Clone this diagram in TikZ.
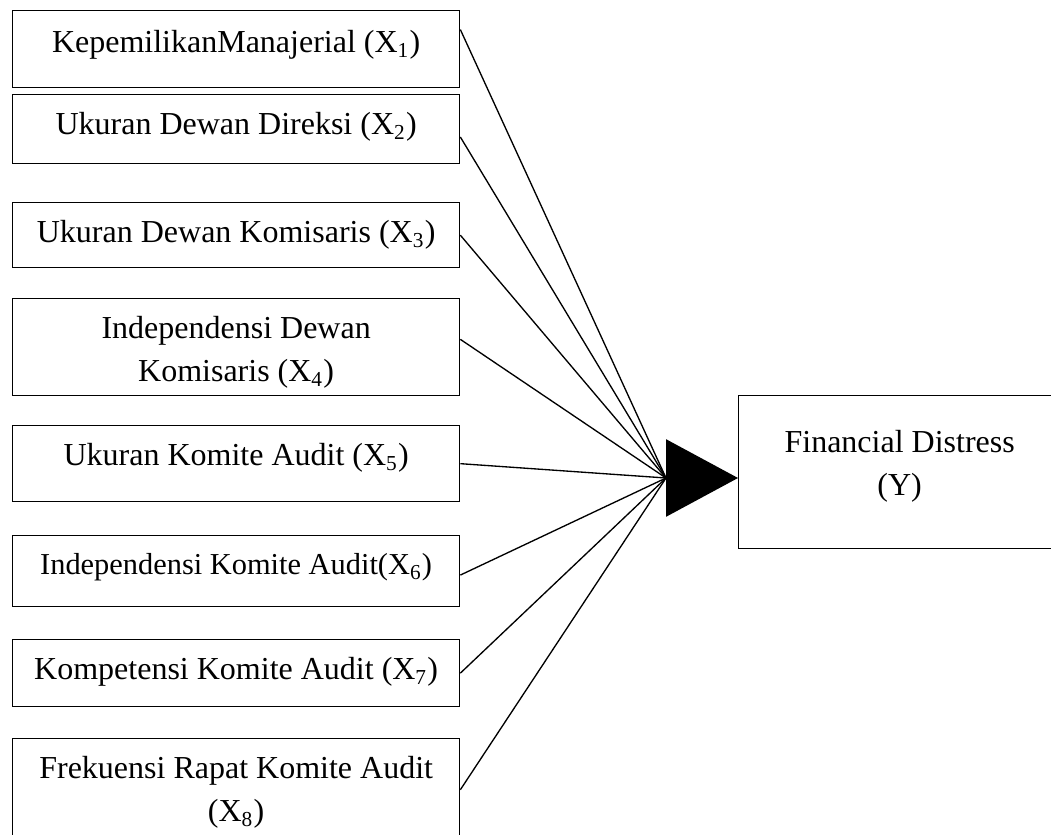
\documentclass[tikz,border=0pt]{standalone}
\usepackage{fontspec}
\setmainfont{Liberation Serif}
\usetikzlibrary{arrows.meta}
\newcommand{\px}{0.375pt}

\begin{document}
\begin{tikzpicture}[x=\px,y=-\px,line width=0.5pt,
  box/.style={draw,anchor=north west,minimum width=447*\px,inner sep=0pt},
  lbl/.style={anchor=north,align=center,inner sep=0pt,font=\fontsize{12}{16.1}\selectfont}]
\useasboundingbox (0,0) rectangle (1051,834);

\node[box,minimum height=77*\px] (b1) at (12,10) {};
\node[box,minimum height=69*\px] (b2) at (12,94) {};
\node[box,minimum height=65*\px] (b3) at (12,202) {};
\node[box,minimum height=97*\px] (b4) at (12,298) {};
\node[box,minimum height=76*\px] (b5) at (12,425) {};
\node[box,minimum height=71*\px] (b6) at (12,535) {};
\node[box,minimum height=67*\px] (b7) at (12,639) {};
\node[box,minimum height=110*\px] (b8) at (12,738) {};
\node[box,minimum width=322*\px,minimum height=153*\px] (y) at (738,395) {};

\node[lbl] at ([yshift=-20*\px]b1.north) {KepemilikanManajerial (X\textsubscript{1})};
\node[lbl] at ([yshift=-18*\px]b2.north) {Ukuran Dewan Direksi (X\textsubscript{2})};
\node[lbl] at ([yshift=-18*\px]b3.north) {Ukuran Dewan Komisaris (X\textsubscript{3})};
\node[lbl] at ([yshift=-18*\px]b4.north) {Independensi Dewan\\Komisaris (X\textsubscript{4})};
\node[lbl] at ([yshift=-18*\px]b5.north) {Ukuran Komite Audit (X\textsubscript{5})};
\node[lbl,font=\fontsize{11.4}{15}\selectfont] at ([yshift=-18*\px]b6.north) {Independensi Komite Audit(X\textsubscript{6})};
\node[lbl] at ([yshift=-18*\px]b7.north) {Kompetensi Komite Audit (X\textsubscript{7})};
\node[lbl] at ([yshift=-18*\px]b8.north) {Frekuensi Rapat Komite Audit\\(X\textsubscript{8})};
\node[lbl] at ([yshift=-35*\px]y.north) {Financial Distress\\(Y)};

\coordinate (hub) at (666,478);
\foreach \n/\a in {b1/5,b2/-2,b3/0,b4/2,b5/0,b6/-1,b7/0,b8/1} {
\draw (\n.\a) -- (hub);}
\draw[-{Triangle[length=27pt,width=29pt]}] (hub) -- (hub -| y.west);

\end{tikzpicture}
\end{document}
